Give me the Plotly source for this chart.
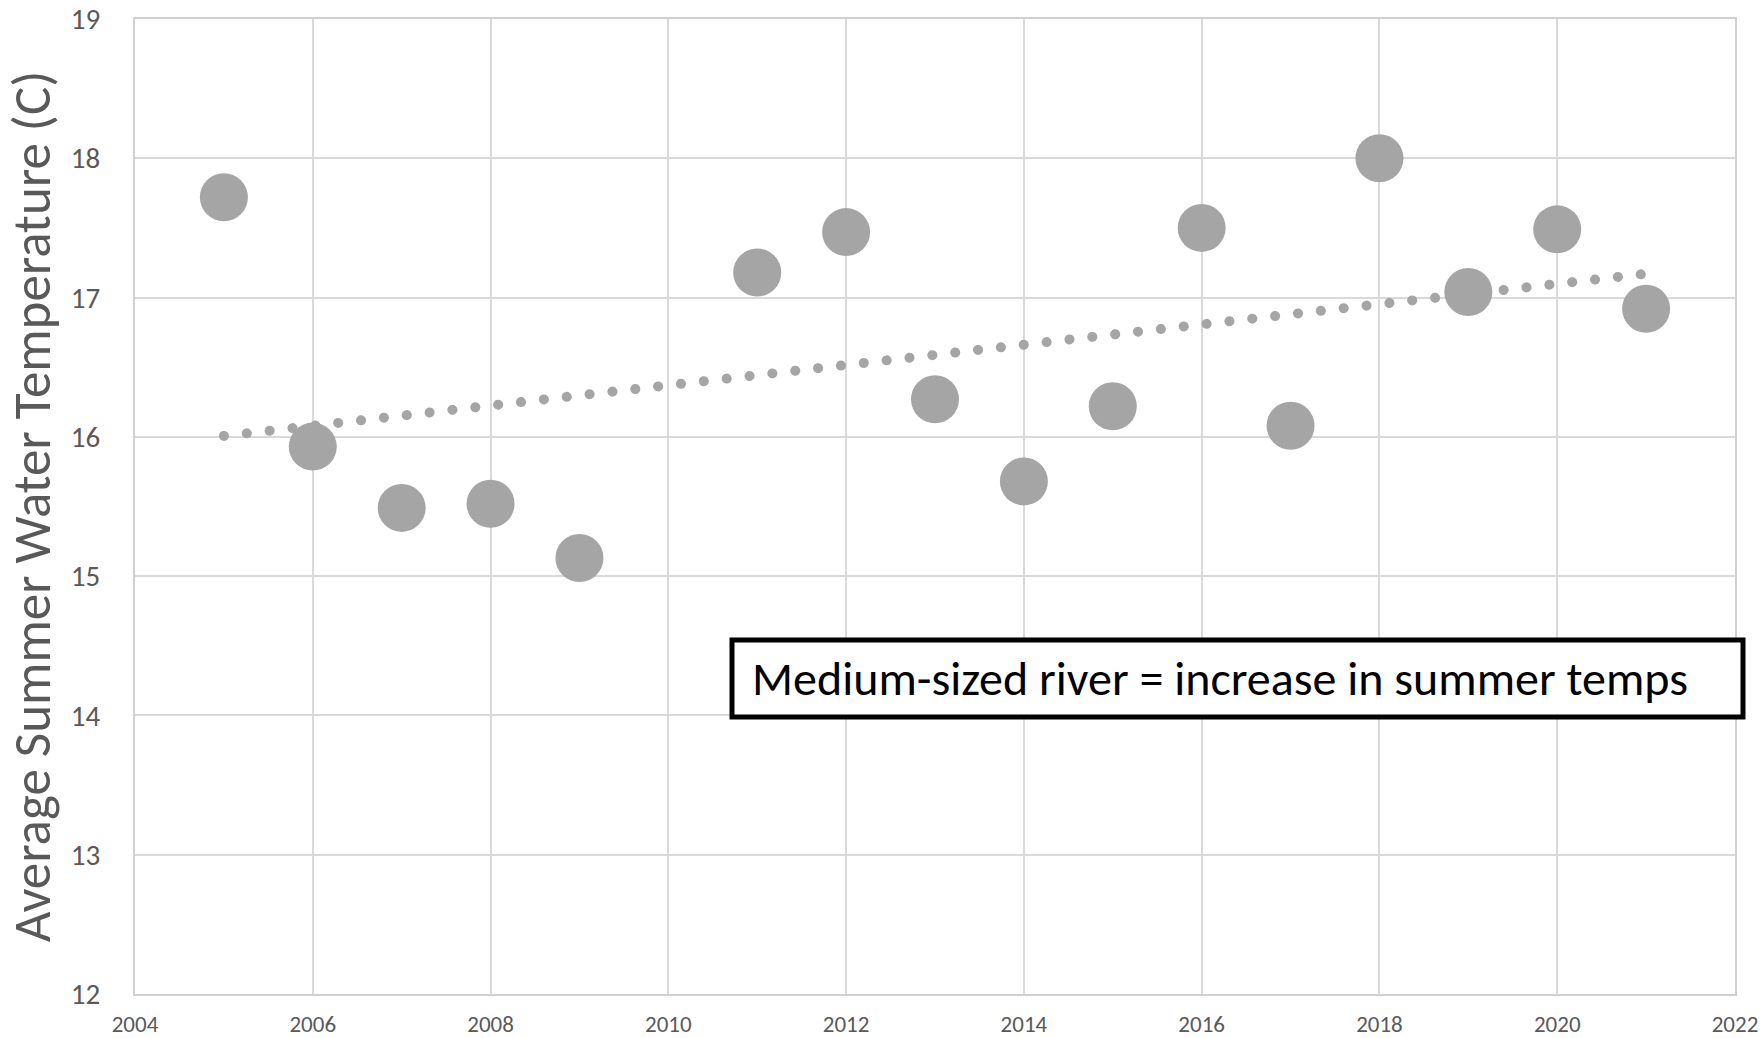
import numpy as np
import plotly.graph_objects as go

years = [2005, 2006, 2007, 2008, 2009, 2011, 2012, 2013, 2014, 2015, 2016, 2017, 2018, 2019, 2020, 2021]
temps = [17.72, 15.93, 15.49, 15.52, 15.13, 17.18, 17.47, 16.27, 15.68, 16.22, 17.50, 16.08, 18.00, 17.04, 17.49, 16.92]
x_ticks = [2004, 2006, 2008, 2010, 2012, 2014, 2016, 2018, 2020, 2022]
y_ticks = [12, 13, 14, 15, 16, 17, 18, 19]
y_title = "Average Summer Water Temperature (C)"
note = "Medium-sized river = increase in summer temps"

# linear trendline (least squares) over the data span
slope, intercept = np.polyfit(years, temps, 1)
trend_x = [min(years), max(years)]
trend_y = [slope * v + intercept for v in trend_x]

FONT = "Carlito, Lato, Open Sans, sans-serif"
GRAY = "#A5A5A5"

W, H = 1763, 1038
L, R, T, B = 135, 28, 19, 44
PW, PH = W - L - R, H - T - B
BOTTOM = H - B


def px(x):
    return (x - L) / PW


def py(y):
    return (BOTTOM - y) / PH


fig = go.Figure()
fig.add_trace(go.Scatter(
    x=trend_x, y=trend_y, mode="lines",
    line=dict(color=GRAY, width=10, dash="0.1px,22.9px"),
    hoverinfo="skip", showlegend=False,
))
fig.add_trace(go.Scatter(
    x=years, y=temps, mode="markers",
    marker=dict(color=GRAY, size=48, line=dict(width=0)),
    showlegend=False,
))

fig.add_shape(type="rect", xref="paper", yref="paper",
              x0=px(732), x1=px(1743), y0=py(717), y1=py(640),
              line=dict(color="black", width=5), fillcolor="white", layer="above")
fig.add_annotation(xref="paper", yref="paper",
                   x=px(750), y=py(678.5),
                   xanchor="left", yanchor="middle", showarrow=False,
                   text=note, font=dict(family=FONT, size=48, color="black"))

fig.update_layout(
    width=W, height=H,
    margin=dict(l=L, r=R, t=T, b=B),
    plot_bgcolor="white", paper_bgcolor="white",
    font=dict(family=FONT, color="#595959"),
)
fig.update_xaxes(
    range=[2004, 2022], tickvals=x_ticks, ticktext=[str(v) for v in x_ticks],
    showgrid=True, gridcolor="#D9D9D9", gridwidth=2,
    showline=True, linecolor="#D0D0D0", linewidth=2, mirror=True,
    zeroline=False, tickfont=dict(size=23, color="#595959"), ticks="",
    ticklabelstandoff=8, ticklabeloverflow="allow", automargin=False,
)
fig.update_yaxes(
    range=[12, 19], tickvals=y_ticks, ticktext=[str(v) for v in y_ticks],
    showgrid=True, gridcolor="#D9D9D9", gridwidth=2,
    showline=True, linecolor="#D0D0D0", linewidth=2, mirror=True,
    zeroline=False, tickfont=dict(size=29, color="#595959"), ticks="",
    ticklabelstandoff=27, ticklabeloverflow="allow", automargin=False,
    title=dict(text=y_title, font=dict(size=53, color="#595959"), standoff=4),
)

post = """
document.body.style.margin = '0';
document.body.style.overflow = 'hidden';
var fix = function(){
  var p = document.querySelectorAll('.scatterlayer .trace')[0];
  if (p) { p.querySelectorAll('path.js-line').forEach(function(e){ e.style.strokeLinecap='round'; }); }
};
fix();
var gd = document.getElementsByClassName('plotly-graph-div')[0];
gd.on('plotly_afterplot', fix);
"""
fig.write_html("out.html", post_script=post, config={"displayModeBar": False})
